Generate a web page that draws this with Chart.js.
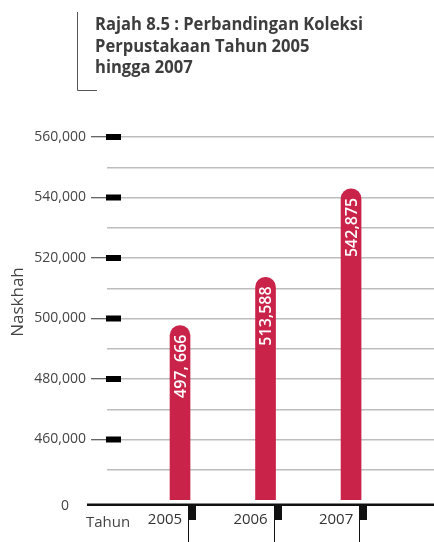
<!DOCTYPE html>
<html>
<head>
<meta charset="utf-8">
<script src="https://cdn.jsdelivr.net/npm/chart.js@4"></script>
<style>
  html, body { margin: 0; padding: 0; background: #fff; }
  #wrap { width: 434px; height: 542px; }
</style>
</head>
<body>
<div id="wrap"><canvas id="koleksiChart" width="434" height="542"></canvas></div>
<script>
const titleLines = ["Rajah 8.5 : Perbandingan Koleksi", "Perpustakaan Tahun 2005", "hingga 2007"];
const years = ["2005", "2006", "2007"];
const koleksi = [497666, 513588, 542875];
const valueLabels = ["497, 666", "513,588", "542,875"];
const yTicks = [460000, 480000, 500000, 520000, 540000, 560000];
const yBreak = 440000;       // bottom of the broken axis, labelled "0"
const yBreakLabel = "0";
const yTitle = "Naskhah";
const xTitle = "Tahun";

const FONT = "'Open Sans', 'Noto Sans', sans-serif";
const BAR = "#c9234a";

const extras = {
    id: "extras",
    afterDraw(chart) {
        const ctx = chart.ctx;
        const area = chart.chartArea;
        const y = chart.scales.y;
        const x = chart.scales.x;
        ctx.save();

        // title bracket
        ctx.strokeStyle = "#555";
        ctx.lineWidth = 1;
        ctx.beginPath();
        ctx.moveTo(77.5, 12);
        ctx.lineTo(77.5, 90.5);
        ctx.lineTo(97, 90.5);
        ctx.stroke();

        // title
        ctx.fillStyle = "#3d3d3d";
        ctx.font = "bold 18.5px " + FONT;
        ctx.textBaseline = "alphabetic";
        ctx.textAlign = "left";
        const k = 268 / ctx.measureText(titleLines[0]).width;
        titleLines.forEach((line, i) => {
            ctx.save();
            ctx.translate(95, 30 + i * 21.5);
            ctx.scale(k, 1);
            ctx.fillText(line, 0, 0);
            ctx.restore();
        });

        // black blocks on major ticks
        ctx.fillStyle = "#000";
        yTicks.forEach(v => {
            const py = y.getPixelForValue(v);
            ctx.fillRect(area.left - 1, py - 3, 15, 6);
        });

        // broken axis label and base line
        ctx.fillStyle = "#444";
        ctx.font = "14px " + FONT;
        ctx.textAlign = "center";
        ctx.textBaseline = "middle";
        ctx.fillText(yBreakLabel, 65, area.bottom + 6);

        ctx.fillStyle = "#111";
        ctx.fillRect(87, area.bottom + 3.5, area.right - 87, 2.5);

        // separators below axis
        years.forEach((yr, i) => {
            const px = Math.round(x.getPixelForValue(i) + 8);
            ctx.fillRect(px, area.bottom + 5, 8, 15);
            ctx.fillRect(px, area.bottom + 5, 1, 42);
        });

        // axis titles
        ctx.fillStyle = "#444";
        ctx.font = "15px " + FONT;
        ctx.textAlign = "left";
        ctx.textBaseline = "alphabetic";
        ctx.fillText(xTitle, 86, area.bottom + 27);

        ctx.save();
        ctx.translate(23, 302);
        ctx.rotate(-Math.PI / 2);
        ctx.font = "17px " + FONT;
        ctx.textAlign = "center";
        ctx.fillText(yTitle, 0, 0);
        ctx.restore();

        ctx.restore();
    },
    afterDatasetsDraw(chart) {
        const ctx = chart.ctx;
        const meta = chart.getDatasetMeta(0);
        ctx.save();
        ctx.fillStyle = "#fff";
        ctx.font = "600 16px " + FONT;
        ctx.textAlign = "right";
        ctx.textBaseline = "middle";
        meta.data.forEach((bar, i) => {
            ctx.save();
            ctx.translate(bar.x + 1, bar.y + 9);
            ctx.rotate(-Math.PI / 2);
            ctx.fillText(valueLabels[i], 0, 0);
            ctx.restore();
        });
        ctx.restore();
    }
};

new Chart(document.getElementById("koleksiChart"), {
    type: "bar",
    data: {
        datasets: [{
            data: koleksi.map((v, i) => ({ x: i, y: v })),
            backgroundColor: BAR,
            barThickness: 20,
            borderRadius: { topLeft: 10, topRight: 10 },
            borderSkipped: "bottom"
        }]
    },
    options: {
        responsive: false,
        animation: false,
        layout: { padding: { top: 137, left: 0, right: 0, bottom: 0 } },
        plugins: {
            legend: { display: false },
            tooltip: { enabled: false }
        },
        scales: {
            x: {
                type: "linear",
                offset: false,
                min: -0.854,
                max: 2.97,
                afterFit: axis => { axis.height = 42; },
                afterBuildTicks: axis => { axis.ticks = years.map((yr, i) => ({ value: i })); },
                grid: { display: false, drawTicks: false, offset: false },
                border: { display: false },
                ticks: {
                    callback: v => years[v],
                    labelOffset: -15,
                    padding: 11,
                    color: "#333",
                    font: { family: FONT, size: 15 }
                }
            },
            y: {
                min: yBreak,
                max: 560000,
                afterFit: axis => { axis.width = 107; },
                border: { display: false },
                grid: {
                    color: "#bdbdbd",
                    lineWidth: 1.5,
                    tickLength: 16,
                    tickWidth: 1,
                    tickColor: c => (c.tick && c.tick.value % 20000 === 0) ? "#333" : "rgba(0,0,0,0)"
                },
                ticks: {
                    stepSize: 10000,
                    autoSkip: false,
                    padding: 5,
                    color: "#444",
                    font: { family: FONT, size: 14 },
                    callback: v => {
                        if (v === yBreak) return null;
                        return yTicks.includes(v) ? v.toLocaleString("en-US") : "";
                    }
                }
            }
        }
    },
    plugins: [extras]
});
</script>
</body>
</html>
